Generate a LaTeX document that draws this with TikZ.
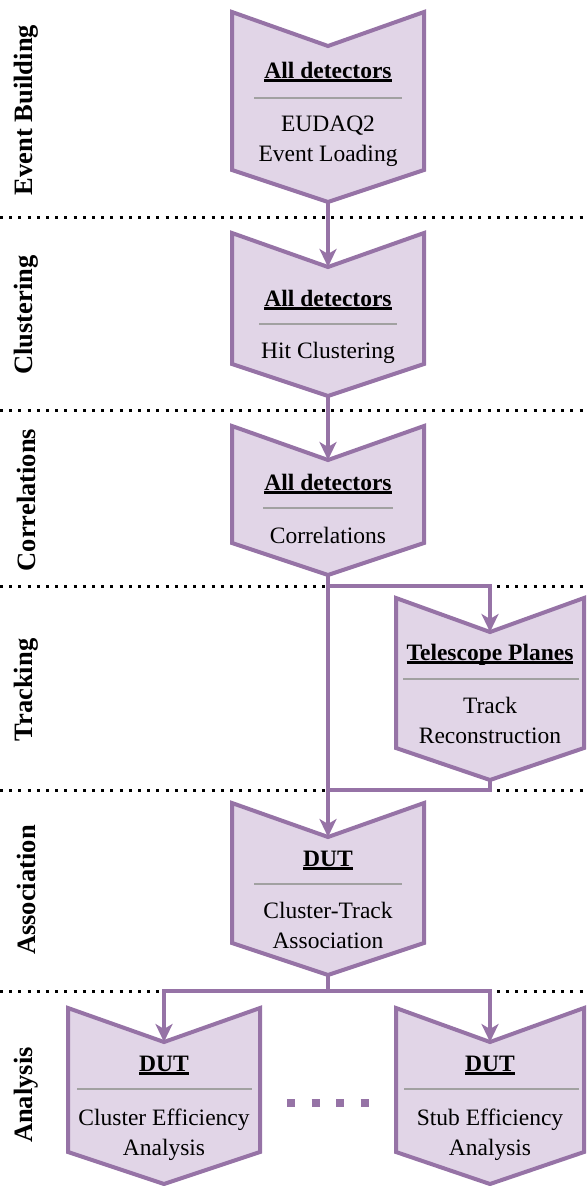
\documentclass[tikz,border=0pt]{standalone}
\usepackage{fontspec}
\setmainfont{Liberation Serif}
\usetikzlibrary{arrows.meta}
\definecolor{stageline}{HTML}{9673A6}
\definecolor{stagefill}{HTML}{E1D5E7}
\newcommand{\stagehead}[1]{\setbox0=\hbox{\bfseries #1}\rlap{\rule[-3.8pt]{\wd0}{2.4pt}}\box0}

\begin{document}
\begin{tikzpicture}[x=1pt,y=-1pt,
  stage/.style={draw=stageline,fill=stagefill,line width=4pt,line join=miter},
  head/.style={anchor=base,inner sep=0pt,font=\fontsize{23.5}{30}\selectfont},
  body/.style={anchor=north,inner sep=0pt,align=center,font=\fontsize{23.5}{30}\selectfont},
  divider/.style={draw=black!37,line width=1.2pt},
  phase/.style={rotate=90,inner sep=0pt,font=\fontsize{26.5}{30}\selectfont\bfseries},
  border/.style={line width=3pt,dash pattern=on 3pt off 6.2pt},
  link/.style={draw=stageline,line width=4pt},
  flow/.style={link,-{Stealth[length=18pt,width=17pt,inset=5pt]}}]
\useasboundingbox (0,0) rectangle (587,1186);

\draw[border] (0,217) -- (587,217);
\draw[border] (0,410) -- (587,410);
\draw[border] (0,586) -- (587,586);
\draw[border] (0,790) -- (587,790);
\draw[border] (0,991) -- (587,991);

\node[phase] (p1) at (26,110) {Event Building};
\node[phase] (p2) at (26,315) {Clustering};
\node[phase] (p3) at (26,500) {Correlations};
\node[phase] (p4) at (26,690) {Tracking};
\node[phase] (p5) at (26,890) {Association};
\node[phase] (p6) at (26,1095) {Analysis};

\draw[stage] (232,12) -- (328,46) coordinate (evb-in) -- (424,12) -- (424,170) -- (328,202) coordinate (evb-out) -- (232,170) -- cycle;
\node[head] (evb-h) at (328,78) {\stagehead{All detectors}};
\draw[divider] (254,98) -- (402,98);
\node[body] (evb-t) at (328,116) {EUDAQ2\\Event Loading};

\draw[stage] (232,233) -- (328,267) coordinate (clu-in) -- (424,233) -- (424,364) -- (328,396) coordinate (clu-out) -- (232,364) -- cycle;
\node[head] (clu-h) at (328,306) {\stagehead{All detectors}};
\draw[divider] (259,324) -- (397,324);
\node[body] (clu-t) at (328,342) {Hit Clustering};

\draw[stage] (232,426) -- (328,460) coordinate (cor-in) -- (424,426) -- (424,543) -- (328,575) coordinate (cor-out) -- (232,543) -- cycle;
\node[head] (cor-h) at (328,490) {\stagehead{All detectors}};
\draw[divider] (263,508) -- (393,508);
\node[body] (cor-t) at (328,527) {Correlations};

\draw[stage] (396,598) -- (490,632) coordinate (trk-in) -- (584,598) -- (584,748) -- (490,780) coordinate (trk-out) -- (396,748) -- cycle;
\node[head] (trk-h) at (490,660) {\stagehead{Telescope Planes}};
\draw[divider] (403,679) -- (579,679);
\node[body] (trk-t) at (490,697) {Track\\Reconstruction};

\draw[stage] (232,803) -- (328,837) coordinate (asc-in) -- (424,803) -- (424,943) -- (328,975) coordinate (asc-out) -- (232,943) -- cycle;
\node[head] (asc-h) at (328,866) {\stagehead{DUT}};
\draw[divider] (254,884) -- (402,884);
\node[body] (asc-t) at (328,902) {Cluster-Track\\Association};

\draw[stage] (68,1008) -- (164,1042) coordinate (effc-in) -- (260,1008) -- (260,1152) -- (164,1184) coordinate (effc-out) -- (68,1152) -- cycle;
\node[head] (effc-h) at (164,1071) {\stagehead{DUT}};
\draw[divider] (77,1089) -- (252,1089);
\node[body] (effc-t) at (164,1109) {Cluster Efficiency\\Analysis};

\draw[stage] (396,1008) -- (490,1042) coordinate (effs-in) -- (584,1008) -- (584,1152) -- (490,1184) coordinate (effs-out) -- (396,1152) -- cycle;
\node[head] (effs-h) at (490,1071) {\stagehead{DUT}};
\draw[divider] (404,1089) -- (579,1089);
\node[body] (effs-t) at (490,1109) {Stub Efficiency\\Analysis};

\draw[link,line width=8pt,dash pattern=on 8pt off 16.5pt] (287,1103) -- (370,1103);

\coordinate (fork) at (328,586);
\coordinate (merge) at (328,790);
\coordinate (split) at (328,991);
\draw[flow] (evb-out) -- (clu-in);
\draw[flow] (clu-out) -- (cor-in);
\draw[flow] (cor-out) -- (asc-in);
\draw[flow] (fork) -| (trk-in);
\draw[link] (trk-out) |- (merge);
\draw[link] (asc-out) -- (split);
\draw[flow] (split) -| (effc-in);
\draw[flow] (split) -| (effs-in);
\end{tikzpicture}
\end{document}
